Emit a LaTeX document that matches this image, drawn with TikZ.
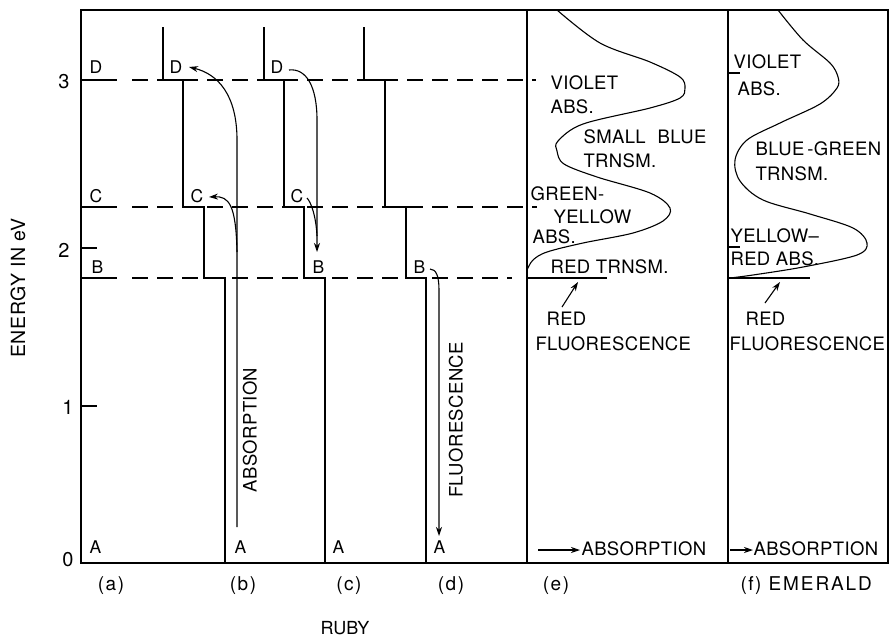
\documentclass[tikz,border=0pt]{standalone}
\usepackage{fontspec}
\setmainfont{TeX Gyre Heros}
\usetikzlibrary{arrows.meta}
\begin{document}
\begin{tikzpicture}[x=1pt,y=-1pt,line width=1.1pt,
  lbl/.style={font=\fontsize{18.5}{20}\selectfont\addfontfeature{LetterSpace=2},inner sep=0pt,anchor=base west},
  lvl/.style={font=\fontsize{17.5}{19}\selectfont,inner sep=0pt,anchor=base west},
  pan/.style={font=\fontsize{19}{20}\selectfont\addfontfeature{LetterSpace=10},inner sep=0pt},
  num/.style={font=\fontsize{20}{21}\selectfont,inner sep=0pt},
  arr/.style={-{Stealth[length=9pt,width=6pt]}},
  dsh/.style={dash pattern=on 16pt off 9pt}]
\useasboundingbox (0,0) rectangle (891,638);
% frame and panel borders
\draw (81,10) rectangle (888,563);
\draw (527,10) -- (527,563);
\draw (728,10) -- (728,563);
% axis ticks and numbers
\draw (81,248) -- (97,248);
\draw (81,406) -- (97,406);
\node[num] (n0) at (68,560) {0};
\node[num] (n1) at (68,407) {1};
\node[num] (n2) at (64,250) {2};
\node[num] (n3) at (64,82) {3};
\node[num,font=\fontsize{19.5}{21}\selectfont\addfontfeature{LetterSpace=3},rotate=90] (ylab) at (18,288) {ENERGY IN eV};
% energy levels
\draw (81,80) -- (117,80);
\draw (81,207) -- (117,207);
\draw (81,278) -- (117,278);
\draw[dsh] (132,80) -- (536,80);
\draw[dsh] (132,207) -- (537,207);
\draw[dsh] (132,278) -- (512,278);
% staircases
\draw (163,27) -- (163,80) -- (183,80) -- (183,207) -- (204,207) -- (204,278) -- (225,278) -- (225,563);
\draw (264,27) -- (264,80) -- (284,80) -- (284,207) -- (304,207) -- (304,278) -- (325,278) -- (325,563);
\draw (364,27) -- (364,80) -- (385,80) -- (385,207) -- (406,207) -- (406,278) -- (426,278) -- (426,563);
% level letters
\node[lvl] (aD) at (89,73) {D};
\node[lvl] (aC) at (89,202) {C};
\node[lvl] (aB) at (91,273) {B};
\node[lvl] (aA) at (89,553) {A};
\node[lvl] (bD) at (169,73) {D};
\node[lvl] (bC) at (190,202) {C};
\node[lvl] (bA) at (234,553) {A};
\node[lvl] (cD) at (270,73) {D};
\node[lvl] (cC) at (290,202) {C};
\node[lvl] (cB) at (312,273) {B};
\node[lvl] (cA) at (332,553) {A};
\node[lvl] (dB) at (413,273) {B};
\node[lvl] (dA) at (433,553) {A};
% (b) absorption arrows
\coordinate (b0) at (237,527);
\coordinate (b1) at (237,140);
\coordinate (bDt) at (189,67);
\coordinate (b2) at (237,252);
\coordinate (bCt) at (209,197);
\draw[arr] (b0) -- (b1) .. controls (237,95) and (218,74) .. (bDt);
\draw[arr] (b2) .. controls (236,205) and (229,196) .. (bCt);
\node[lbl,anchor=center,rotate=90] (absb) at (250,430) {ABSORPTION};
% (c) relaxation arrows
\coordinate (c0) at (289,70);
\coordinate (c1) at (317,120);
\coordinate (cBt) at (317,252);
\coordinate (c2) at (307,198);
\coordinate (c3) at (317,236);
\draw[arr] (c0) .. controls (306,68) and (317,86) .. (c1) -- (cBt);
\draw (c2) .. controls (311,202) and (316,216) .. (c3);
% (d) fluorescence arrow
\coordinate (d0) at (430,269);
\coordinate (d1) at (439,290);
\coordinate (dAt) at (439,536);
\draw[arr] (d0) .. controls (436,269) and (439,276) .. (d1) -- (dAt);
\node[lbl,anchor=center,rotate=90] (fluod) at (456,420) {FLUORESCENCE};
% (e) ruby spectrum
\draw plot[smooth,tension=0.55] coordinates {(557,10) (600,43) (650,62) (680,77) (685,88) (680,98) (650,108) (583,124) (558,141) (557,151) (564,164) (597,177) (650,193) (670,208) (663,221) (633,233) (583,243) (547,252) (533,260) (527,270)};
\draw (527,278) -- (607,278);
\coordinate (eR0) at (562,307);
\coordinate (eR1) at (578,282);
\draw[arr] (eR0) -- (eR1);
\node[lbl] (e1) at (550,89) {VIOLET};
\node[lbl] (e2) at (550,113) {ABS.};
\node[lbl] (e3) at (583,143) {SMALL\hspace{12pt}BLUE};
\node[lbl] (e4) at (583,167) {TRNSM.};
\node[lbl] (e5) at (530,200) {GREEN-};
\node[lbl] (e6) at (553,223) {YELLOW};
\node[lbl] (e7) at (532,243) {ABS.};
\node[lbl] (e8) at (550,273) {RED TRNSM.};
\node[lbl] (e9) at (546,325) {RED};
\node[lbl] (e10) at (535,350) {FLUORESCENCE};
\coordinate (eA0) at (538,550);
\coordinate (eA1) at (580,550);
\draw[arr] (eA0) -- (eA1);
\node[lbl] (eabs) at (581,555) {ABSORPTION};
% (f) emerald spectrum
\draw plot[smooth,tension=0.55] coordinates {(778,10) (803,40) (830,63) (838,77) (837,88) (820,104) (780,123) (747,140) (735,160) (740,181) (763,200) (810,214) (853,228) (867,243) (857,255) (803,267) (753,275) (730,278)};
\draw (728,278) -- (810,278);
\draw (728,73) -- (740,73);
\draw (728,247) -- (740,247);
\coordinate (fR0) at (765,303);
\coordinate (fR1) at (780,282);
\draw[arr] (fR0) -- (fR1);
\node[lbl] (f1) at (733,68) {VIOLET};
\node[lbl] (f2) at (737,95) {ABS.};
\node[lbl] (f3) at (755,155) {BLUE\kern3pt-GREEN};
\node[lbl] (f4) at (755,180) {TRNSM.};
\node[lbl] (f5) at (730,242) {YELLOW–};
\node[lbl] (f6) at (730,265) {RED ABS.};
\node[lbl] (f7) at (745,325) {RED};
\node[lbl] (f8) at (729,350) {FLUORESCENCE};
\coordinate (fA0) at (730,550);
\coordinate (fA1) at (753,550);
\draw[arr] (fA0) -- (fA1);
\node[lbl] (fabs) at (753,555) {ABSORPTION};
% panel labels
\node[pan] (la) at (111,586) {(\kern1.5pt a\kern1.5pt)};
\node[pan] (lb) at (243,586) {(\kern1.5pt b\kern1.5pt)};
\node[pan] (lc) at (349,586) {(\kern1.5pt c\kern1.5pt)};
\node[pan] (ld) at (451,586) {(\kern1.5pt d\kern1.5pt)};
\node[pan] (le) at (556,586) {(\kern1.5pt e\kern1.5pt)};
\node[pan,anchor=west] (lf) at (740,586) {(\kern1.5pt f\kern1.5pt) EMERALD};
\node[pan,font=\fontsize{18}{19}\selectfont] (ruby) at (345,628) {RUBY};
\end{tikzpicture}
\end{document}
